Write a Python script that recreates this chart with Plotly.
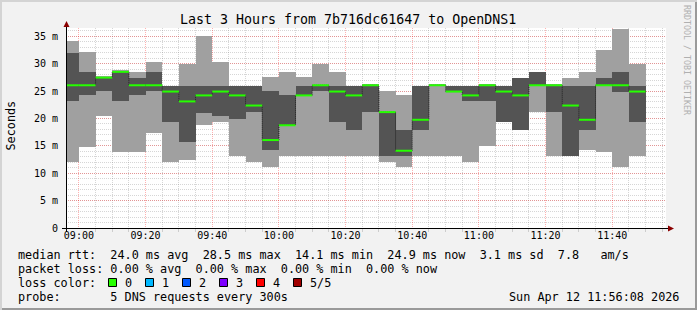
import plotly.graph_objects as go
from datetime import datetime, timedelta

# ---------------- data ----------------
title_text = "Last 3 Hours from 7b716dc61647 to OpenDNS1"
day = "2026-04-12"
bar_start = ["08:55", "09:00", "09:05", "09:10", "09:15", "09:20", "09:25",
             "09:30", "09:35", "09:40", "09:45", "09:50", "09:55", "10:00",
             "10:05", "10:10", "10:15", "10:20", "10:25", "10:30", "10:35",
             "10:40", "10:45", "10:50", "10:55", "11:00", "11:05", "11:10",
             "11:15", "11:20", "11:25", "11:30", "11:35", "11:40", "11:45"]
step_seconds = 300

# sorted ping values per 5-minute step (ms)
ping_min = [12.0, 14.85, 20.35, 13.8, 13.8, 17.4, 12.0, 12.35, 18.8, 19.3,
            13.1, 12.0, 11.1, 13.1, 13.1, 13.1, 13.1, 13.1, 13.1, 12.0,
            11.1, 13.1, 13.1, 13.1, 12.0, 14.9, 19.3, 17.8, 21.1, 13.1,
            13.1, 14.2, 13.8, 11.1, 13.1]
ping_p2 = [23.1, 24.2, 24.95, 23.1, 24.2, 24.95, 19.3, 15.65, 21.05, 20.35,
           19.85, 21.1, 14.2, 18.75, 24.2, 24.95, 19.3, 17.8, 21.2, 13.1,
           13.1, 17.8, 26.0, 24.9, 23.1, 23.1, 19.3, 17.8, 26.05, 21.2,
           13.1, 17.8, 26.0, 24.9, 19.3]
median = [26.05, 26.05, 27.45, 28.5, 26.05, 26.05, 24.9, 23.1, 24.2, 24.9,
          24.2, 22.35, 16.05, 18.75, 24.2, 26.05, 24.9, 24.2, 26.05, 21.15,
          14.1, 19.75, 26.05, 24.9, 24.2, 26.05, 24.9, 24.2, 26.05, 26.05,
          22.35, 19.75, 26.05, 26.05, 24.9]
ping_p4 = [31.85, 28.55, 27.45, 28.5, 27.4, 28.55, 26.0, 26.0, 26.0, 26.0,
           26.0, 26.0, 24.95, 24.2, 26.0, 26.05, 26.0, 26.0, 26.05, 21.15,
           17.8, 26.0, 26.05, 26.0, 26.0, 26.05, 26.0, 27.45, 28.55, 26.05,
           26.0, 26.0, 27.45, 28.55, 26.0]
ping_max = [34.2, 32.2, 27.65, 28.8, 28.55, 30.35, 26.0, 29.9, 35.0, 30.35,
            26.0, 26.0, 27.5, 28.55, 27.5, 30.0, 28.55, 26.0, 26.1, 24.95,
            24.2, 26.0, 26.15, 26.0, 26.0, 26.1, 26.0, 27.45, 28.55, 26.1,
            27.45, 28.55, 32.4, 36.35, 29.9]

y_tick_vals = [0, 5, 10, 15, 20, 25, 30, 35]
y_tick_text = ["0", "5 m", "10 m", "15 m", "20 m", "25 m", "30 m", "35 m"]
x_range = [day + " 08:56:08", day + " 11:56:08"]

legend_lines = [
    "median rtt:  24.0 ms avg  28.5 ms max  14.1 ms min  24.9 ms now  3.1 ms sd  7.8   am/s",
    "packet loss: 0.00 % avg  0.00 % max  0.00 % min  0.00 % now",
    "loss color:",
    "probe:       5 DNS requests every 300s",
]
loss_labels = ["0", "1", "2", "3", "4", "5/5"]
loss_colors = ["#26ff00", "#00b8ff", "#0059ff", "#7e00ff", "#ff0000", "#a00000"]
date_text = "Sun Apr 12 11:56:08 2026"
side_text = "RRDTOOL / TOBI OETIKER"

# ---------------- styles ----------------
FONT = "DejaVu Sans Mono"
W, H = 697, 310
ML, MR, MT, MB = 66, 31, 28, 82
PW, PH = W - ML - MR, H - MT - MB
LIGHT = "#a0a0a0"
DARK = "#545454"
GREEN = loss_colors[0]
BG = "#f2f2f2"


def px(x):
    return (x - ML) / PW


def py(y):
    return (H - MB - y) / PH


starts = [datetime.fromisoformat(day + " " + s) for s in bar_start]
step = timedelta(seconds=step_seconds)
centers = [s + step / 2 for s in starts]
ends = [s + step for s in starts]
wms = step_seconds * 1000

fig = go.Figure()
fig.add_trace(go.Bar(x=centers, base=ping_min,
                     y=[b - a for a, b in zip(ping_min, ping_p2)],
                     width=wms, marker=dict(color=LIGHT, line=dict(width=0)),
                     hoverinfo="skip"))
fig.add_trace(go.Bar(x=centers, base=ping_p2,
                     y=[b - a for a, b in zip(ping_p2, ping_p4)],
                     width=wms, marker=dict(color=DARK, line=dict(width=0)),
                     hoverinfo="skip"))
fig.add_trace(go.Bar(x=centers, base=ping_p4,
                     y=[b - a for a, b in zip(ping_p4, ping_max)],
                     width=wms, marker=dict(color=LIGHT, line=dict(width=0)),
                     hoverinfo="skip"))

# median step connectors (dotted dark)
fig.add_trace(go.Scatter(x=starts + [ends[-1]], y=median + [median[-1]],
                         mode="lines", line=dict(color="#202020", width=1, dash="1px,1px", shape="hv"),
                         hoverinfo="skip"))
# median green segments
gx, gy = [], []
for s, e, m in zip(starts, ends, median):
    gx += [s, e, None]
    gy += [m, m, None]
fig.add_trace(go.Scatter(x=gx, y=gy, mode="lines",
                         line=dict(color=GREEN, width=2), hoverinfo="skip"))

shapes = []
# frame shading
shapes.append(dict(type="rect", xref="paper", yref="paper", x0=px(0), x1=px(W), y0=py(H - 2), y1=py(H),
                   fillcolor="#9a9a9a", line=dict(width=0), layer="above"))
shapes.append(dict(type="rect", xref="paper", yref="paper", x0=px(W - 2), x1=px(W), y0=py(H), y1=py(0),
                   fillcolor="#9a9a9a", line=dict(width=0), layer="above"))
shapes.append(dict(type="rect", xref="paper", yref="paper", x0=px(0), x1=px(W), y0=py(2), y1=py(0),
                   fillcolor="#d4d4d4", line=dict(width=0), layer="above"))
shapes.append(dict(type="rect", xref="paper", yref="paper", x0=px(0), x1=px(2), y0=py(H), y1=py(0),
                   fillcolor="#d4d4d4", line=dict(width=0), layer="above"))
# axes lines
shapes.append(dict(type="line", xref="paper", yref="paper", x0=px(62), x1=px(669), y0=py(228.5), y1=py(228.5),
                   line=dict(color="black", width=1), layer="above"))
shapes.append(dict(type="line", xref="paper", yref="paper", x0=px(66.5), x1=px(66.5), y0=py(232), y1=py(25),
                   line=dict(color="black", width=1), layer="above"))
# arrows
shapes.append(dict(type="path", xref="paper", yref="paper",
                   path="M {} {} L {} {} L {} {} Z".format(px(668), py(225.5), px(674), py(228.5), px(668), py(231.5)),
                   fillcolor="#8b0000", line=dict(width=0), layer="above"))
shapes.append(dict(type="path", xref="paper", yref="paper",
                   path="M {} {} L {} {} L {} {} Z".format(px(63.5), py(27), px(66.5), py(21), px(69.5), py(27)),
                   fillcolor="#8b0000", line=dict(width=0), layer="above"))

ann = []
ann.append(dict(text=title_text, x=px(347.5), y=py(19.5), xref="paper", yref="paper",
                showarrow=False, xanchor="center", yanchor="middle",
                font=dict(family=FONT, size=13.3, color="black")))
ann.append(dict(text="Seconds", x=px(10.5), y=py(126), xref="paper", yref="paper", textangle=-90,
                showarrow=False, xanchor="center", yanchor="middle",
                font=dict(family=FONT, size=11.8, color="black")))
ann.append(dict(text=side_text, x=px(687), y=py(60), xref="paper", yref="paper", textangle=90,
                showarrow=False, xanchor="center", yanchor="middle",
                font=dict(family=FONT, size=8.3, color="#b0b0b0")))
line_y = [254.5, 268.5, 282.5, 296.5]
for txt, yy in zip(legend_lines, line_y):
    ann.append(dict(text=txt.replace(" ", "&nbsp;"), x=px(15.5), y=py(yy), xref="paper", yref="paper",
                    showarrow=False, xanchor="left", yanchor="middle",
                    font=dict(family=FONT, size=11.8, color="black")))
for i, (lab, col) in enumerate(zip(loss_labels, loss_colors)):
    bx = 108.5 + 37 * i
    shapes.append(dict(type="rect", xref="paper", yref="paper", x0=px(bx), x1=px(bx + 8),
                       y0=py(286.5), y1=py(278.5), fillcolor=col,
                       line=dict(color="black", width=1), layer="above"))
    ann.append(dict(text=lab, x=px(bx + 14), y=py(line_y[2]), xref="paper", yref="paper",
                    showarrow=False, xanchor="left", yanchor="middle",
                    font=dict(family=FONT, size=11.8, color="black")))
ann.append(dict(text=date_text.replace(" ", "&nbsp;"), x=px(681), y=py(line_y[3]), xref="paper", yref="paper",
                showarrow=False, xanchor="right", yanchor="middle",
                font=dict(family=FONT, size=11.8, color="black")))

MGRID = "rgba(255,0,0,0.30)"
GRID = "rgba(128,128,128,0.32)"

fig.update_layout(
    width=W, height=H, margin=dict(l=ML, r=MR, t=MT, b=MB, pad=0),
    paper_bgcolor=BG, plot_bgcolor="white",
    barmode="overlay", bargap=0, showlegend=False,
    shapes=shapes, annotations=ann,
    font=dict(family=FONT, size=10, color="black"),
    xaxis=dict(type="date", range=x_range, tick0=day + " 09:00", dtick=20 * 60 * 1000,
               tickformat="%H:%M", showgrid=True, gridcolor=MGRID, griddash="1px,1px", gridwidth=1,
               ticks="", showline=False, zeroline=False,
               tickfont=dict(family=FONT, size=10, color="black"),
               minor=dict(dtick=5 * 60 * 1000, tick0=day + " 09:00", showgrid=True, gridcolor=GRID,
                          griddash="1px,1px", ticks="outside", ticklen=3, tickcolor=GRID),
               fixedrange=True),
    yaxis=dict(range=[0, 36.5], tickmode="array", tickvals=y_tick_vals, ticktext=y_tick_text,
               showgrid=True, gridcolor=MGRID, griddash="1px,1px", gridwidth=1,
               ticks="outside", ticklen=5, tickcolor="rgba(0,0,0,0)", zeroline=False, showline=False,
               tickfont=dict(family=FONT, size=10, color="black"),
               minor=dict(tickmode="linear", tick0=0, dtick=1, showgrid=True, gridcolor=GRID,
                          griddash="1px,1px"),
               fixedrange=True),
)

fig.write_html("out.html")
